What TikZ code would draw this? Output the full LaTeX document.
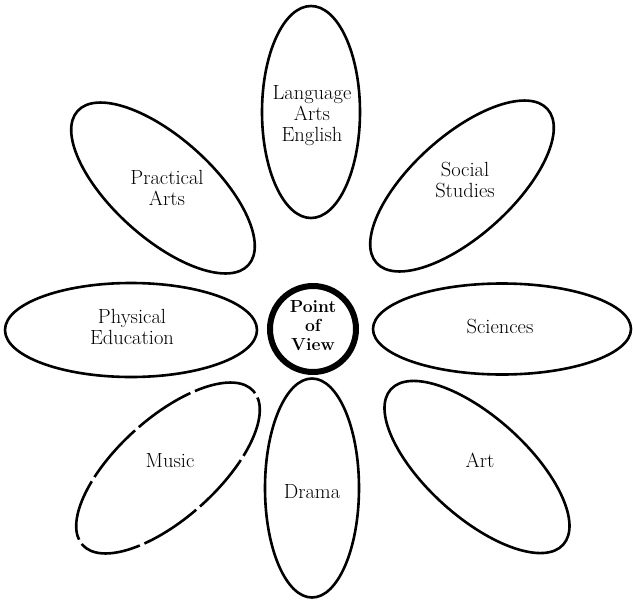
\documentclass[tikz,border=0pt]{standalone}
\usetikzlibrary{shapes.geometric}
\begin{document}
\begin{tikzpicture}
  [x=1pt,y=-1pt,
   petal/.style={ellipse,draw=black,line width=2.6pt,inner sep=0pt},
   word/.style={align=center,font=\fontsize{20.5}{21}\selectfont}]

  \useasboundingbox (0,0) rectangle (633,603);

  % Centro
  \node[circle,draw=black,line width=6pt,minimum size=86pt,inner sep=0pt] (pv) at (313,329) {};
  \node[word,font=\fontsize{17.5}{19}\selectfont\bfseries] (pvt) at (313,326) {Point\\of\\View};

  % Petalos rectos
  \node[petal,minimum width=98pt,minimum height=212pt] (la) at (311,112) {};
  \node[word] (lat) at (312,116) {Language\\Arts\\English};

  \node[petal,minimum width=252pt,minimum height=94pt] (pe) at (131,330) {};
  \node[word] (pet) at (132,327) {Physical\\Education};

  \node[petal,minimum width=258pt,minimum height=91pt] (sc) at (502,329) {};
  \node[word] (sct) at (500,326) {Sciences};

  \node[petal,minimum width=94pt,minimum height=219pt] (dr) at (312,488) {};
  \node[word] (drt) at (312,492) {Drama};

  % Petalos diagonales
  \node[petal,minimum width=230pt,minimum height=100pt,rotate=-42] (pa) at (163,188) {};
  \node[word] (pat) at (167,188) {Practical\\Arts};

  \node[petal,minimum width=230pt,minimum height=100pt,rotate=42] (ss) at (462,186) {};
  \node[word] (sst) at (465,180) {Social\\Studies};

  \node[petal,minimum width=230pt,minimum height=100pt,rotate=42,
        dash pattern=on 62pt off 5pt] (mu) at (168,468) {};
  \node[word] (mut) at (170,461) {Music};

  \node[petal,minimum width=232pt,minimum height=100pt,rotate=-42] (ar) at (477,467) {};
  \node[word] (art) at (480,460) {Art};

\end{tikzpicture}
\end{document}
